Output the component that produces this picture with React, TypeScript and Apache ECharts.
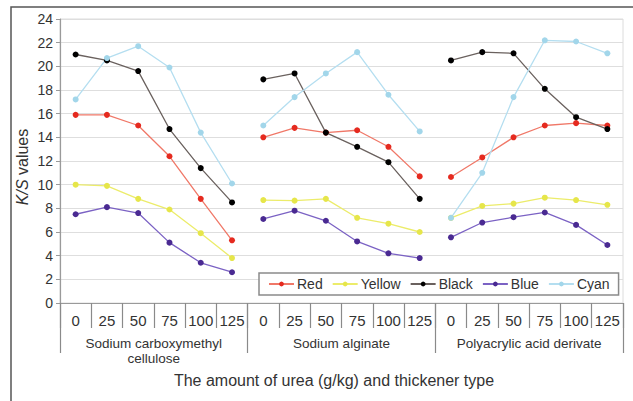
import React, { useEffect, useRef } from "react";
import * as echarts from "echarts";

const ureaLevels = ["0", "25", "50", "75", "100", "125"];
const thickeners = ["Sodium carboxymethyl\ncellulose", "Sodium alginate", "Polyacrylic acid derivate"];

// values per thickener group (CMC, alginate, polyacrylic)
const redValues = [
  [15.9, 15.9, 15.0, 12.4, 8.8, 5.3],
  [14.0, 14.8, 14.4, 14.6, 13.2, 10.7],
  [10.65, 12.3, 14.0, 15.0, 15.2, 15.0],
];
const yellowValues = [
  [10.0, 9.9, 8.8, 7.9, 5.9, 3.8],
  [8.7, 8.65, 8.8, 7.2, 6.7, 6.0],
  [7.2, 8.2, 8.4, 8.9, 8.7, 8.3],
];
const blackValues = [
  [21.0, 20.5, 19.6, 14.7, 11.4, 8.5],
  [18.9, 19.4, 14.4, 13.2, 11.9, 8.8],
  [20.5, 21.2, 21.1, 18.1, 15.7, 14.7],
];
const blueValues = [
  [7.5, 8.1, 7.6, 5.1, 3.4, 2.6],
  [7.1, 7.8, 6.95, 5.2, 4.2, 3.8],
  [5.55, 6.8, 7.25, 7.65, 6.6, 4.9],
];
const cyanValues = [
  [17.2, 20.7, 21.7, 19.9, 14.4, 10.1],
  [15.0, 17.4, 19.4, 21.2, 17.6, 14.5],
  [7.2, 11.0, 17.4, 22.2, 22.1, 21.1],
];

const seriesDefs = [
  { name: "Red", values: redValues, line: "#f07868", marker: "#e52a1f" },
  { name: "Yellow", values: yellowValues, line: "#ecec6a", marker: "#e6e64a" },
  { name: "Black", values: blackValues, line: "#6a615e", marker: "#000000" },
  { name: "Blue", values: blueValues, line: "#7b62c4", marker: "#4a2a92" },
  { name: "Cyan", values: cyanValues, line: "#b4def0", marker: "#a2d6ea" },
];

const FONT = 'Arial, "Liberation Sans", Helvetica, sans-serif';

export default function App() {
  const ref = useRef<HTMLDivElement>(null);
  useEffect(() => {
    if (!ref.current) return;
    const chart = echarts.init(ref.current, null, { renderer: "svg" });
    const categories: string[] = [];
    thickeners.forEach(() => ureaLevels.forEach((u) => categories.push(u)));
    const total = categories.length;

    const series: any[] = [];
    seriesDefs.forEach((d) => {
      d.values.forEach((grp, g) => {
        const data: (number | null)[] = new Array(total).fill(null);
        grp.forEach((v, i) => {
          data[g * ureaLevels.length + i] = v;
        });
        series.push({
          name: d.name,
          type: "line",
          data,
          connectNulls: false,
          symbol: "circle",
          symbolSize: 6,
          lineStyle: { color: d.line, width: 1.3 },
          itemStyle: { color: d.marker },
          z: 3,
        });
      });
    });

    chart.setOption({
      animation: false,
      backgroundColor: "#ffffff",
      textStyle: { fontFamily: FONT },
      grid: {
        left: 60,
        top: 19,
        right: 10,
        bottom: 98,
        show: true,
        borderColor: "#dcdcdc",
        borderWidth: 1,
      },
      legend: {
        left: 259,
        top: 273,
        width: 360,
        padding: [4, 9],
        itemGap: 9,
        itemWidth: 25,
        itemHeight: 6,
        borderColor: "#8a8a8a",
        borderWidth: 1.5,
        backgroundColor: "#ffffff",
        textStyle: { fontSize: 14, color: "#333", fontFamily: FONT, padding: [0, 0, 0, -2] },
        data: seriesDefs.map((d) => d.name),
      },
      xAxis: [
        {
          type: "category",
          data: categories,
          boundaryGap: true,
          axisLine: { show: true, lineStyle: { color: "#9a9a9a", width: 1.2 } },
          axisTick: { show: true, interval: 0, length: 25, alignWithLabel: false, lineStyle: { color: "#8a8a8a", width: 1.2 } },
          axisLabel: { interval: 0, margin: 10, fontSize: 15, color: "#333", fontFamily: FONT },
          splitLine: { show: false },
        },
        {
          type: "category",
          data: thickeners,
          position: "bottom",
          boundaryGap: true,
          axisLine: { show: false },
          axisTick: { show: true, interval: 0, length: 50, alignWithLabel: false, lineStyle: { color: "#8a8a8a", width: 1.2 } },
          axisLabel: { interval: 0, margin: 33, fontSize: 13.5, lineHeight: 15, color: "#333", fontFamily: FONT },
          splitLine: { show: false },
        },
      ],
      yAxis: {
        type: "value",
        min: 0,
        max: 24,
        interval: 2,
        axisLine: { show: true, lineStyle: { color: "#9a9a9a", width: 1.2 } },
        axisTick: { show: true, length: 4, lineStyle: { color: "#9a9a9a" } },
        axisLabel: { fontSize: 14, color: "#333", margin: 7, fontFamily: FONT },
        splitLine: { show: true, lineStyle: { color: "#dedede", width: 1.2 } },
      },
      graphic: [
        {
          type: "rect",
          silent: true,
          shape: { x: 11, y: 7, width: 700, height: 500 },
          style: { fill: "none", stroke: "#555", lineWidth: 1.5 },
        },
        {
          type: "text",
          x: 22,
          y: 167,
          rotation: Math.PI / 2,
          style: {
            text: "{i|K/S} values",
            fontSize: 16,
            fontFamily: FONT,
            fill: "#333",
            align: "center",
            verticalAlign: "middle",
            rich: { i: { fontStyle: "italic", fontSize: 16, fontFamily: FONT, fill: "#333" } },
          },
        },
        {
          type: "text",
          x: 334,
          y: 380,
          style: {
            text: "The amount of urea (g/kg) and thickener type",
            fontSize: 16,
            fontFamily: FONT,
            fill: "#333",
            align: "center",
            verticalAlign: "middle",
          },
        },
      ],
      series,
    });
    return () => chart.dispose();
  }, []);
  return <div ref={ref} style={{ position: "fixed", left: 0, top: 0, width: 633, height: 401 }} />;
}
